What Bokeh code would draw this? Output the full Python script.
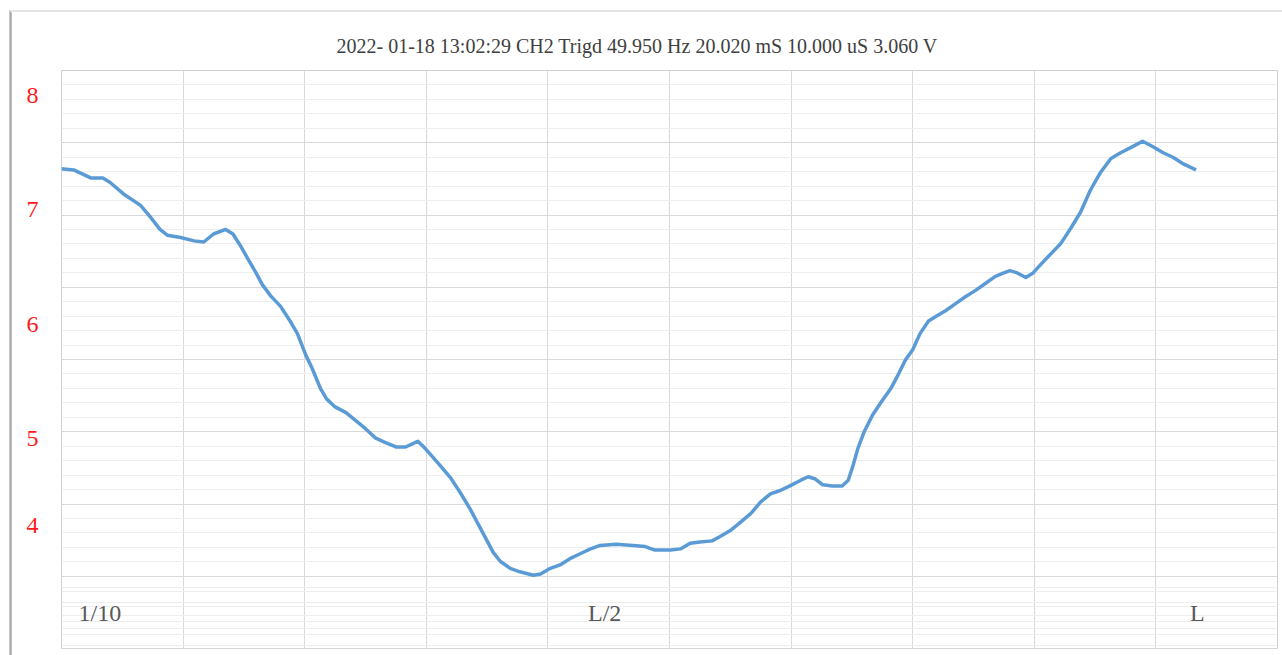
import numpy as np
from bokeh.plotting import figure
from bokeh.models import Range1d, FixedTicker, Label, LinearAxis
from bokeh.embed import file_html
from bokeh.resources import INLINE

# ---------------- data (time in screen divisions, signal in V) ----------------
t_div = [0.00, 0.10, 0.24, 0.34, 0.40, 0.51, 0.65, 0.73, 0.81, 0.87,
         0.98, 1.09, 1.17, 1.25, 1.35, 1.41, 1.47, 1.54, 1.60, 1.65,
         1.72, 1.80, 1.88, 1.94, 2.01, 2.06, 2.13, 2.18, 2.25, 2.34,
         2.42, 2.50, 2.58, 2.66, 2.75, 2.83, 2.89, 2.93, 2.98, 3.03,
         3.12, 3.20, 3.28, 3.36, 3.43, 3.50, 3.55, 3.61, 3.69, 3.77,
         3.88, 3.94, 4.02, 4.10, 4.19, 4.27, 4.35, 4.43, 4.56, 4.70,
         4.80, 4.88, 5.01, 5.09, 5.17, 5.25, 5.35, 5.42, 5.50, 5.58,
         5.67, 5.75, 5.83, 5.91, 5.99, 6.08, 6.14, 6.20, 6.26, 6.34,
         6.42, 6.47, 6.51, 6.55, 6.60, 6.67, 6.74, 6.82, 6.88, 6.94,
         7.00, 7.06, 7.13, 7.19, 7.27, 7.35, 7.43, 7.52, 7.60, 7.68,
         7.75, 7.80, 7.86, 7.93, 7.99, 8.05, 8.13, 8.22, 8.30, 8.38,
         8.46, 8.54, 8.63, 8.71, 8.82, 8.89, 8.98, 9.06, 9.14, 9.23,
         9.33]
volts = [7.36, 7.35, 7.28, 7.28, 7.24, 7.14, 7.04, 6.94, 6.83, 6.78,
         6.76, 6.73, 6.72, 6.79, 6.83, 6.79, 6.69, 6.56, 6.45, 6.35,
         6.25, 6.16, 6.03, 5.92, 5.73, 5.62, 5.44, 5.35, 5.28, 5.23,
         5.16, 5.09, 5.01, 4.97, 4.93, 4.93, 4.96, 4.98, 4.93, 4.87,
         4.76, 4.66, 4.53, 4.39, 4.25, 4.11, 4.01, 3.93, 3.87, 3.84,
         3.81, 3.82, 3.87, 3.90, 3.96, 4.00, 4.04, 4.07, 4.08, 4.07,
         4.06, 4.03, 4.03, 4.04, 4.09, 4.10, 4.11, 4.15, 4.20, 4.27,
         4.35, 4.45, 4.52, 4.55, 4.59, 4.64, 4.67, 4.65, 4.60, 4.59,
         4.59, 4.64, 4.77, 4.92, 5.06, 5.21, 5.32, 5.44, 5.56, 5.69,
         5.78, 5.92, 6.03, 6.07, 6.12, 6.18, 6.24, 6.30, 6.36, 6.42,
         6.45, 6.47, 6.45, 6.41, 6.45, 6.52, 6.61, 6.71, 6.84, 6.98,
         7.17, 7.32, 7.45, 7.50, 7.56, 7.60, 7.55, 7.50, 7.46, 7.40,
         7.35]

title_text = "2022- 01-18  13:02:29  CH2 Trigd 49.950 Hz 20.020 mS 10.000 uS 3.060 V"
y_labels = ["8", "7", "6", "5", "4"]
x_labels = ["1/10", "L/2", "L"]

# ---------------- styling / layout ----------------
Y_TOP = 8.218                 # value at the top edge of the grid
Y_BOT = 3.170                 # value at the bottom edge of the grid
MAJOR = 72.25 / 114.5         # one major grid interval in volts
serif = "Liberation Serif"

p = figure(width=1282, height=655, output_backend="svg", toolbar_location=None,
           x_range=Range1d(0, 10), y_range=Range1d(Y_BOT, Y_TOP),
           x_axis_location=None, y_axis_location=None,
           min_border_left=61, min_border_right=5,
           min_border_top=70, min_border_bottom=7)
p.background_fill_color = "white"
p.border_fill_alpha = 0
p.outline_line_color = "#d0d0d0"
p.outline_line_width = 1
# outer picture frame: grey shadow on the left, thin light edge on top
p.styles = {
    "background": (
        "linear-gradient(#e4e4e4, #e4e4e4) 10px 10px / calc(100% - 10px) 2px no-repeat, "
        "linear-gradient(to right, #d8d8d8, #aaaaaa, #c8c8c8) 9px 10px / 3px calc(100% - 10px) no-repeat, "
        "#ffffff"
    )
}

# title
p.title.text = title_text
p.title.text_font = serif
p.title.text_font_size = "20px"
p.title.text_font_style = "normal"
p.title.text_color = "#404040"
p.title.align = "left"
p.title.offset = 275
p.title.standoff = 28

# red value labels on the left, drawn as an axis without ticks
lab_pos = [8, 7, 6, 5, 4.24]
yax = LinearAxis(ticker=FixedTicker(ticks=lab_pos),
                 major_label_overrides={v: t for v, t in zip(lab_pos, y_labels)})
yax.axis_line_color = None
yax.major_tick_line_color = None
yax.minor_tick_line_color = None
yax.major_tick_out = 0
yax.major_tick_in = 0
yax.major_label_standoff = 23
yax.major_label_text_font = serif
yax.major_label_text_font_size = "24px"
yax.major_label_text_color = "#ff1a1a"
p.add_layout(yax, "left")

# grid
p.xgrid.ticker = FixedTicker(ticks=list(range(0, 11)))
p.xgrid.grid_line_color = "#d9d9d9"
p.xgrid.grid_line_width = 1

ymaj = [Y_TOP - k * MAJOR for k in range(9)]
ymin = [Y_TOP - (k + j / 5) * MAJOR for k in range(7) for j in range(1, 5)]
# the lowest band of the scope picture shows paired minor lines
ymin += [Y_TOP - (7 + f) * MAJOR for f in (0.15, 0.21, 0.36, 0.42, 0.55, 0.62, 0.73, 0.80, 0.955)]
p.ygrid.ticker = FixedTicker(ticks=ymaj, minor_ticks=ymin)
p.ygrid.grid_line_color = "#d9d9d9"
p.ygrid.grid_line_width = 1
p.ygrid.minor_grid_line_color = "#eeeeee"
p.ygrid.minor_grid_line_width = 1

p.line(t_div, volts, line_color="#5b9bd5", line_width=3.5, line_join="round")

# position labels along the bottom
for txt, xv in zip(x_labels, [0.14, 4.33, 9.28]):
    p.add_layout(Label(x=xv, y=3.476, text=txt, text_font=serif,
                       text_font_size="24px", text_color="#595959",
                       text_align="left", text_baseline="middle"))

open("out.html", "w").write(file_html(p, INLINE))
